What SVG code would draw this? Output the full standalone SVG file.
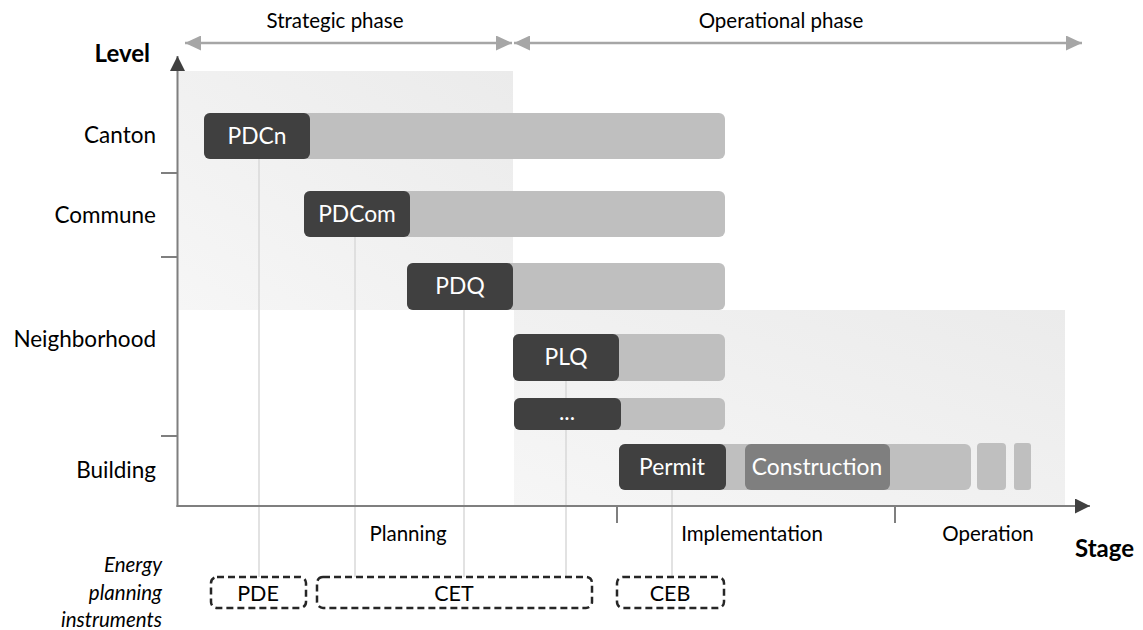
<svg xmlns="http://www.w3.org/2000/svg" width="1143" height="630" viewBox="0 0 1143 630">
<defs>
<linearGradient id="bg" x1="0" y1="1" x2="1" y2="0">
<stop offset="0" stop-color="#f6f6f6"/>
<stop offset="1" stop-color="#ebebeb"/>
</linearGradient>
<marker id="ph" viewBox="0 0 16 15" refX="16" refY="7.5" markerWidth="16" markerHeight="15" markerUnits="userSpaceOnUse" orient="auto-start-reverse">
<path d="M0,0 L16,7.5 L0,15 Z" fill="#a6a6a6"/>
</marker>
<marker id="ax" viewBox="0 0 15 15" refX="15" refY="7.5" markerWidth="15" markerHeight="15" markerUnits="userSpaceOnUse" orient="auto">
<path d="M0,0 L15,7.5 L0,15 Z" fill="#404040"/>
</marker>
</defs>
<style>
text{font-family:Lato,"Liberation Sans",sans-serif;fill:#000}
.lvl{font-size:22.5px;text-anchor:end}
.ttl{font-size:24px;font-weight:bold}
.phase{font-size:20.5px;text-anchor:middle}
.stage{font-size:20.5px;text-anchor:middle}
.lab{font-size:22.8px;text-anchor:middle;fill:#fff}
.it{font-size:20.5px;font-style:italic;text-anchor:end}
.box{font-size:21.5px;text-anchor:middle}
.light{fill:#bfbfbf}
.dark{fill:#404040}
.mid{fill:#7f7f7f}
.guide{stroke:#d9d9d9;stroke-width:1.5;fill:none}
.axis{stroke:#7f7f7f;stroke-width:2;fill:none}
.dash{fill:none;stroke:#262626;stroke-width:2.5;stroke-dasharray:7 4}
.parr{stroke:#a6a6a6;stroke-width:2.5;fill:none}
</style>
<rect x="0" y="0" width="1143" height="630" fill="#fff"/>
<g id="backgrounds">
<rect x="178" y="71" width="335" height="239" fill="url(#bg)"/>
<rect x="514" y="310" width="551" height="196" fill="url(#bg)"/>
</g>
<g id="phases">
<line class="parr" x1="185" y1="43" x2="512" y2="43" marker-start="url(#ph)" marker-end="url(#ph)"/>
<line class="parr" x1="514" y1="43" x2="1082" y2="43" marker-start="url(#ph)" marker-end="url(#ph)"/>
<text class="phase" x="335" y="28">Strategic phase</text>
<text class="phase" x="781" y="28">Operational phase</text>
</g>
<g id="connectors">
<line class="guide" x1="259" y1="159" x2="259" y2="577"/>
<line class="guide" x1="355" y1="237" x2="355" y2="577"/>
<line class="guide" x1="464" y1="310" x2="464" y2="577"/>
<line class="guide" x1="566" y1="381" x2="566" y2="577"/>
<line class="guide" x1="672" y1="490" x2="672" y2="577"/>
</g>
<g id="axes">
<line class="axis" x1="177.5" y1="507" x2="177.5" y2="56" marker-end="url(#ax)"/>
<line class="axis" x1="176.5" y1="506" x2="1090" y2="506" marker-end="url(#ax)"/>
<line class="axis" x1="161" y1="173" x2="177" y2="173"/>
<line class="axis" x1="161" y1="257" x2="177" y2="257"/>
<line class="axis" x1="161" y1="436" x2="177" y2="436"/>
<line class="axis" x1="617" y1="506" x2="617" y2="523"/>
<line class="axis" x1="895" y1="506" x2="895" y2="523"/>
<text class="ttl" x="150" y="62" text-anchor="end">Level</text>
<text class="ttl" x="1075" y="557">Stage</text>
<text class="lvl" x="156" y="143">Canton</text>
<text class="lvl" x="156" y="223">Commune</text>
<text class="lvl" x="156" y="347">Neighborhood</text>
<text class="lvl" x="156" y="478">Building</text>
<text class="stage" x="408" y="541">Planning</text>
<text class="stage" x="752" y="541">Implementation</text>
<text class="stage" x="988" y="541">Operation</text>
</g>
<g id="PDCn">
<rect class="light" x="204" y="113" width="521" height="46" rx="6"/>
<rect class="dark" x="204" y="113" width="106" height="46" rx="6"/>
<text class="lab" x="257" y="144">PDCn</text>
</g>
<g id="PDCom">
<rect class="light" x="304" y="191" width="421" height="46" rx="6"/>
<rect class="dark" x="304" y="191" width="106" height="46" rx="6"/>
<text class="lab" x="357" y="222">PDCom</text>
</g>
<g id="PDQ">
<rect class="light" x="407" y="263" width="318" height="47" rx="6"/>
<rect class="dark" x="407" y="263" width="106" height="47" rx="6"/>
<text class="lab" x="460" y="294">PDQ</text>
</g>
<g id="PLQ">
<rect class="light" x="513" y="334" width="212" height="47" rx="6"/>
<rect class="dark" x="513" y="334" width="106" height="47" rx="6"/>
<text class="lab" x="566" y="365">PLQ</text>
</g>
<g id="other">
<rect class="light" x="514" y="398" width="211" height="32" rx="6"/>
<rect class="dark" x="514" y="398" width="107" height="32" rx="6"/>
<text class="lab" x="567" y="420">...</text>
</g>
<g id="Building">
<rect class="light" x="619" y="444" width="352" height="46" rx="6"/>
<rect class="light" x="977" y="443" width="29" height="47" rx="4"/>
<rect class="light" x="1014" y="443" width="17" height="47" rx="3"/>
</g>
<g id="Permit">
<rect class="dark" x="619" y="444" width="107" height="46" rx="6"/>
<text class="lab" x="672" y="475">Permit</text>
</g>
<g id="Construction">
<rect class="mid" x="745" y="444" width="145" height="46" rx="6"/>
<text class="lab" x="817" y="475">Construction</text>
</g>
<g id="instruments">
<text class="it" x="162" y="572">Energy</text>
<text class="it" x="162" y="600">planning</text>
<text class="it" x="162" y="627">instruments</text>
</g>
<g id="PDE">
<rect class="dash" x="211" y="577" width="95" height="31" rx="6"/>
<text class="box" x="258" y="601">PDE</text>
</g>
<g id="CET">
<rect class="dash" x="317" y="577" width="275" height="31" rx="6"/>
<text class="box" x="454" y="601">CET</text>
</g>
<g id="CEB">
<rect class="dash" x="617" y="577" width="107" height="31" rx="6"/>
<text class="box" x="670" y="601">CEB</text>
</g>
</svg>
